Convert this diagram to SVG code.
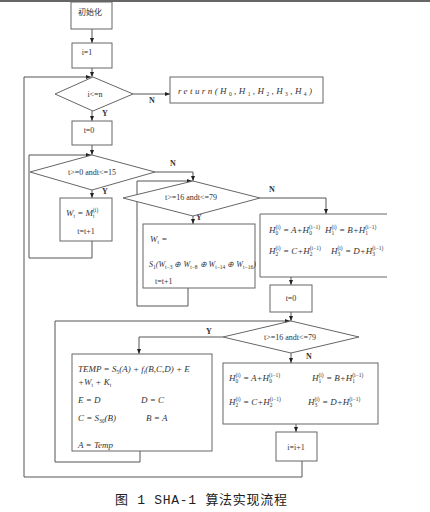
<svg xmlns="http://www.w3.org/2000/svg" width="430" height="512" viewBox="0 0 430 512">
<style>
.bx{fill:#fff;stroke:#666;stroke-width:1}
.ln{fill:none;stroke:#555;stroke-width:1}
.t{font-family:"Liberation Serif",serif;font-size:8px;fill:#333}
.m{font-family:"Liberation Serif",serif;font-size:9px;font-style:italic;fill:#333}
.s{font-size:5.5px;font-style:normal}
.lb{font-family:"Liberation Serif",serif;font-size:8px;font-weight:bold;fill:#333}
.cap{font-family:"Liberation Mono","Noto Sans CJK SC",monospace;font-size:13px;fill:#222}
.cn{font-family:"Noto Sans CJK SC",sans-serif;font-size:8px;fill:#333}
</style>
<defs>
<marker id="ah" viewBox="0 0 10 10" refX="10" refY="5" markerWidth="5" markerHeight="5" orient="auto" markerUnits="userSpaceOnUse"><path d="M0,1 L10,5 L0,9z" fill="#222"/></marker>
</defs>
<rect width="430" height="512" fill="#fff"/>
<line x1="0" y1="1" x2="430" y2="1" stroke="#666" stroke-width="2"/>

<g id="connectors">
<path class="ln" d="M92,29 V43" marker-end="url(#ah)"/>
<path class="ln" d="M92,68 V77" marker-end="url(#ah)"/>
<path class="ln" d="M133,94 H170" marker-end="url(#ah)"/>
<path class="ln" d="M92,111 V121" marker-end="url(#ah)"/>
<path class="ln" d="M92,145 V155" marker-end="url(#ah)"/>
<path class="ln" d="M92,190 V198" marker-end="url(#ah)"/>
<path class="ln" d="M92,241 V258 H29 V155 H91" marker-end="url(#ah)"/>
<path class="ln" d="M155,172 H193 V181" marker-end="url(#ah)"/>
<path class="ln" d="M193,216 V224" marker-end="url(#ah)"/>
<path class="ln" d="M188,288 V306 H137 V181 H192" marker-end="url(#ah)"/>
<path class="ln" d="M260,198 H326 V214" marker-end="url(#ah)"/>
<path class="ln" d="M291,277 V285" marker-end="url(#ah)"/>
<path class="ln" d="M291,312 V321" marker-end="url(#ah)"/>
<path class="ln" d="M223,337 H139 V354" marker-end="url(#ah)"/>
<path class="ln" d="M140,451 V462 H55 V321 H290" marker-end="url(#ah)"/>
<path class="ln" d="M291,353 V363" marker-end="url(#ah)"/>
<path class="ln" d="M296,424 V432" marker-end="url(#ah)"/>
<path class="ln" d="M302,461 V477 H24 V77 H91" marker-end="url(#ah)"/>
<text class="lb" x="149" y="103">N</text>
<text class="lb" x="102" y="116">Y</text>
<text class="lb" x="170" y="166">N</text>
<text class="lb" x="102" y="194">Y</text>
<text class="lb" x="196" y="220">Y</text>
<text class="lb" x="269" y="192">N</text>
<text class="lb" x="206" y="334">Y</text>
<text class="lb" x="306" y="359">N</text>
</g>

<g id="init">
<rect class="bx" x="71" y="2" width="41" height="27"/>
<text class="cn" x="90" y="15" text-anchor="middle">初始化</text>
</g>
<g id="i1">
<rect class="bx" x="72" y="43" width="40" height="25"/>
<text class="t" x="87" y="55" text-anchor="middle">i=1</text>
</g>
<g id="d1">
<polygon class="bx" points="55,94 93,77 133,94 93,111"/>
<text class="t" x="95" y="97" text-anchor="middle">i&lt;=n</text>
</g>
<g id="ret">
<rect class="bx" x="170" y="77" width="153" height="26"/>
<text class="m" x="178" y="94" textLength="134" lengthAdjust="spacing">return(H<tspan class="s" dy="2">0</tspan><tspan dy="-2">,H</tspan><tspan class="s" dy="2">1</tspan><tspan dy="-2">,H</tspan><tspan class="s" dy="2">2</tspan><tspan dy="-2">,H</tspan><tspan class="s" dy="2">3</tspan><tspan dy="-2">,H</tspan><tspan class="s" dy="2">4</tspan><tspan dy="-2">)</tspan></text>
</g>
<g id="t0a">
<rect class="bx" x="72" y="121" width="40" height="24"/>
<text class="t" x="89" y="133" text-anchor="middle">t=0</text>
</g>
<g id="d2">
<polygon class="bx" points="30,172 92,155 155,172 92,190"/>
<text class="t" x="92" y="175" text-anchor="middle">t&gt;=0 andt&lt;=15</text>
</g>
<g id="w1">
<rect class="bx" x="60" y="198" width="52" height="43"/>
<text class="m" x="66" y="216">W<tspan class="s" dy="2">t</tspan><tspan dy="-2"> = M</tspan><tspan class="s" dy="2">t</tspan><tspan class="s" dx="-1.6" dy="-6">(i)</tspan></text>
<text class="t" x="86" y="234" text-anchor="middle">t=t+1</text>
</g>
<g id="d3">
<polygon class="bx" points="123,198 193,181 260,198 193,216"/>
<text class="t" x="191" y="200" text-anchor="middle">t&gt;=16 andt&lt;=79</text>
</g>
<g id="w2">
<rect class="bx" x="143" y="224" width="112" height="64"/>
<text class="m" x="150" y="242">W<tspan class="s" dy="2">t</tspan><tspan dy="-2"> =</tspan></text>
<text class="m" x="149" y="267" style="font-size:8px">S<tspan class="s" dy="2">1</tspan><tspan dy="-2">(W</tspan><tspan class="s" dy="2">t−3</tspan><tspan dy="-2"> ⊕ W</tspan><tspan class="s" dy="2">t−8</tspan><tspan dy="-2"> ⊕ W</tspan><tspan class="s" dy="2">t−14</tspan><tspan dy="-2"> ⊕ W</tspan><tspan class="s" dy="2">t−16</tspan><tspan dy="-2">)</tspan></text>
<text class="t" x="155" y="284">t=t+1</text>
</g>
<g id="hbox1">
<path d="M387,214 H260 V277 H387" fill="#fff" stroke="#666" stroke-width="1"/>
<text class="m" x="269" y="233">H<tspan class="s" dy="2">0</tspan><tspan class="s" dx="-2.8" dy="-6">(i)</tspan><tspan dy="4"> = A+H</tspan><tspan class="s" dy="2">0</tspan><tspan class="s" dx="-2.8" dy="-6">(i−1)</tspan></text>
<text class="m" x="325" y="233">H<tspan class="s" dy="2">1</tspan><tspan class="s" dx="-2.8" dy="-6">(i)</tspan><tspan dy="4"> = B+H</tspan><tspan class="s" dy="2">1</tspan><tspan class="s" dx="-2.8" dy="-6">(i−1)</tspan></text>
<text class="m" x="269" y="254">H<tspan class="s" dy="2">2</tspan><tspan class="s" dx="-2.8" dy="-6">(i)</tspan><tspan dy="4"> = C+H</tspan><tspan class="s" dy="2">2</tspan><tspan class="s" dx="-2.8" dy="-6">(i−1)</tspan></text>
<text class="m" x="331" y="254">H<tspan class="s" dy="2">3</tspan><tspan class="s" dx="-2.8" dy="-6">(i)</tspan><tspan dy="4"> = D+H</tspan><tspan class="s" dy="2">3</tspan><tspan class="s" dx="-2.8" dy="-6">(i−1)</tspan></text>
</g>
<g id="t0b">
<rect class="bx" x="270" y="285" width="42" height="27"/>
<text class="t" x="291" y="301" text-anchor="middle">t=0</text>
</g>
<g id="d4">
<polygon class="bx" points="223,337 291,321 359,337 291,353"/>
<text class="t" x="290" y="340" text-anchor="middle">t&gt;=16 andt&lt;=79</text>
</g>
<g id="temp">
<rect class="bx" x="72" y="354" width="140" height="97"/>
<text class="m" x="78" y="372">TEMP = S<tspan class="s" dy="2">5</tspan><tspan dy="-2">(A) + f</tspan><tspan class="s" dy="2">t</tspan><tspan dy="-2">(B,C,D) + E</tspan></text>
<text class="m" x="78" y="385">+W<tspan class="s" dy="2">t</tspan><tspan dy="-2"> + K</tspan><tspan class="s" dy="2">t</tspan></text>
<text class="m" x="78" y="403">E = D</text>
<text class="m" x="141" y="403">D = C</text>
<text class="m" x="78" y="421">C = S<tspan class="s" dy="2">30</tspan><tspan dy="-2">(B)</tspan></text>
<text class="m" x="146" y="421">B = A</text>
<text class="m" x="78" y="448">A = Temp</text>
</g>
<g id="hbox2">
<rect class="bx" x="223" y="363" width="155" height="61"/>
<text class="m" x="229" y="381">H<tspan class="s" dy="2">0</tspan><tspan class="s" dx="-2.8" dy="-6">(i)</tspan><tspan dy="4"> = A+H</tspan><tspan class="s" dy="2">0</tspan><tspan class="s" dx="-2.8" dy="-6">(i−1)</tspan></text>
<text class="m" x="312" y="381">H<tspan class="s" dy="2">1</tspan><tspan class="s" dx="-2.8" dy="-6">(i)</tspan><tspan dy="4"> = B+H</tspan><tspan class="s" dy="2">1</tspan><tspan class="s" dx="-2.8" dy="-6">(i−1)</tspan></text>
<text class="m" x="229" y="405">H<tspan class="s" dy="2">2</tspan><tspan class="s" dx="-2.8" dy="-6">(i)</tspan><tspan dy="4"> = C+H</tspan><tspan class="s" dy="2">2</tspan><tspan class="s" dx="-2.8" dy="-6">(i−1)</tspan></text>
<text class="m" x="308" y="405">H<tspan class="s" dy="2">3</tspan><tspan class="s" dx="-2.8" dy="-6">(i)</tspan><tspan dy="4"> = D+H</tspan><tspan class="s" dy="2">3</tspan><tspan class="s" dx="-2.8" dy="-6">(i−1)</tspan></text>
</g>
<g id="inc">
<rect class="bx" x="276" y="432" width="41" height="29"/>
<text class="t" x="296" y="450" text-anchor="middle">i=i+1</text>
</g>
<text class="cap" x="115" y="504" textLength="172" lengthAdjust="spacing">图 1 SHA-1 算法实现流程</text>
</svg>
